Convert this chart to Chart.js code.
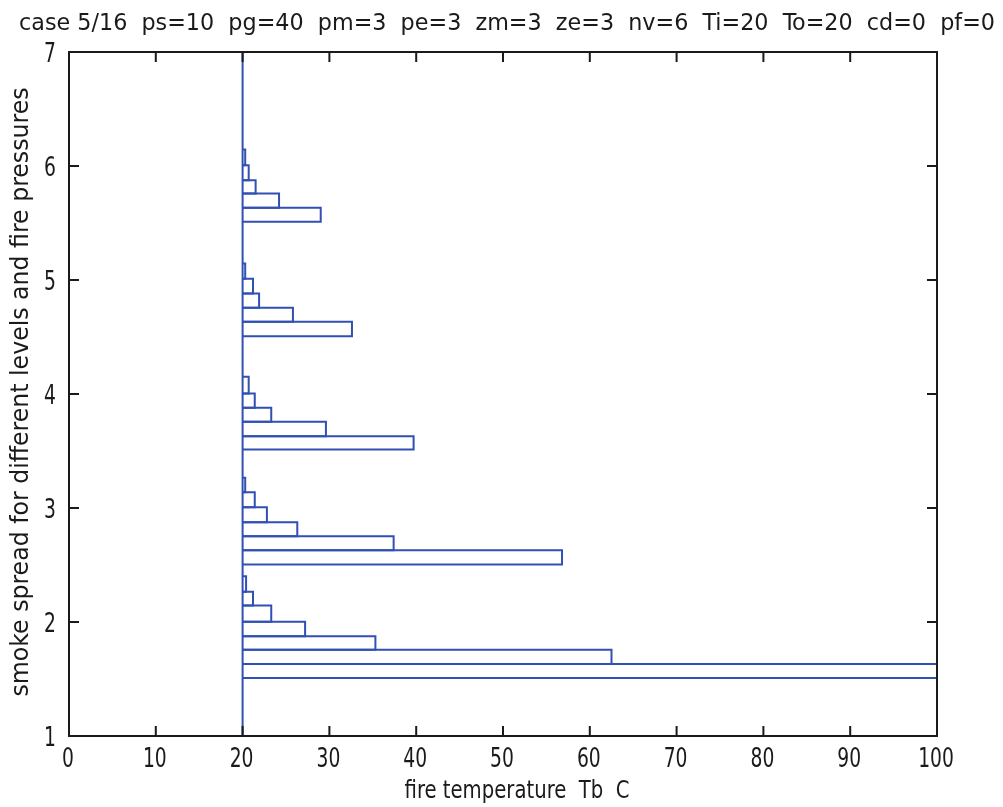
<!DOCTYPE html>
<html>
<head>
<meta charset="utf-8">
<script src="https://cdn.jsdelivr.net/npm/chart.js@4.4.0/dist/chart.umd.min.js"></script>
<style>
html, body { margin: 0; padding: 0; background: #ffffff; }
#chart_box { width: 1003px; height: 807px; }
</style>
</head>
<body>
<div id="chart_box"><canvas id="chart"></canvas></div>
<script>
const title_text = "case 5/16  ps=10  pg=40  pm=3  pe=3  zm=3  ze=3  nv=6  Ti=20  To=20  cd=0  pf=0";
const x_title = "fire temperature  Tb  C";
const y_title = "smoke spread for different levels and fire pressures";

const x_ticks = [0, 10, 20, 30, 40, 50, 60, 70, 80, 90, 100];
const y_ticks = [1, 2, 3, 4, 5, 6, 7];

const inside_temp = 20;

// bar edges (smoke spread) and bar ends (fire temperature) per level
const level_1_edges = [1.509, 1.632, 1.756, 1.875, 2.002, 2.145, 2.265, 2.402];
const level_1_temps = [100, 62.5, 35.3, 27.2, 23.3, 21.2, 20.4];

const level_2_edges = [2.504, 2.630, 2.753, 2.875, 3.007, 3.139, 3.265];
const level_2_temps = [56.8, 37.4, 26.3, 22.8, 21.4, 20.3];

const level_3_edges = [3.513, 3.630, 3.756, 3.879, 4.004, 4.151];
const level_3_temps = [39.7, 29.6, 23.3, 21.4, 20.7];

const level_4_edges = [4.507, 4.633, 4.756, 4.882, 5.011, 5.145];
const level_4_temps = [32.6, 25.8, 21.9, 21.2, 20.3];

const level_5_edges = [5.511, 5.633, 5.759, 5.875, 6.007, 6.144];
const level_5_temps = [29.0, 24.2, 21.5, 20.7, 20.3];

const levels = [
    [level_1_edges, level_1_temps],
    [level_2_edges, level_2_temps],
    [level_3_edges, level_3_temps],
    [level_4_edges, level_4_temps],
    [level_5_edges, level_5_temps],
];

var line_color = "#3150b4";
var axis_color = "#1a1a1a";
var font_family = "'DejaVu Sans Condensed', 'DejaVu Sans', sans-serif";

function Make_Line( points ) {
    return {
        data: points,
        showLine: true,
        borderColor: line_color,
        borderWidth: 2,
        pointRadius: 0,
        pointHoverRadius: 0,
        fill: false,
        tension: 0,
    };
}

function Build_Datasets() {
    var datasets = [];
    for ( var i=0; i<levels.length; i++ ) {
        var edges = levels[i][0];
        var temps = levels[i][1];
        for ( var j=0; j<temps.length; j++ ) {
            var pts = [];
            pts.push({x: inside_temp, y: edges[j]});
            pts.push({x: temps[j], y: edges[j]});
            pts.push({x: temps[j], y: edges[j+1]});
            pts.push({x: inside_temp, y: edges[j+1]});
            datasets.push(Make_Line(pts));
        }
    }
    datasets.push(Make_Line([
        {x: inside_temp, y: y_ticks[0]},
        {x: inside_temp, y: y_ticks[y_ticks.length-1]}
    ]));
    return datasets;
}

// text squeezed or stretched so it covers the same span as in the picture
function Draw_Text( ctx, text, x, y, size, width, align, angle ) {
    ctx.save();
    ctx.font = size + "px " + font_family;
    ctx.textAlign = align;
    var sx = 1;
    if ( width > 0 ) {
        sx = width / ctx.measureText(text).width;
    } else if ( width < 0 ) {
        sx = -width;
    }
    ctx.translate(x, y);
    ctx.rotate(angle);
    ctx.scale(sx, 1);
    ctx.fillText(text, 0, 0);
    ctx.restore();
}

const frame_plugin = {
    id: "frame",
    afterDraw(chart) {
        var ctx = chart.ctx;
        var area = chart.chartArea;
        var xs = chart.scales.x;
        var ys = chart.scales.y;
        var tick_len = 10;

        ctx.save();
        ctx.strokeStyle = axis_color;
        ctx.lineWidth = 2;
        ctx.strokeRect(area.left, area.top, area.right - area.left, area.bottom - area.top);

        ctx.beginPath();
        for ( var i=0; i<x_ticks.length; i++ ) {
            var px = xs.getPixelForValue(x_ticks[i]);
            ctx.moveTo(px, area.bottom);
            ctx.lineTo(px, area.bottom - tick_len);
            ctx.moveTo(px, area.top);
            ctx.lineTo(px, area.top + tick_len);
        }
        for ( var i=0; i<y_ticks.length; i++ ) {
            var py = ys.getPixelForValue(y_ticks[i]);
            ctx.moveTo(area.left, py);
            ctx.lineTo(area.left + tick_len, py);
            ctx.moveTo(area.right, py);
            ctx.lineTo(area.right - tick_len, py);
        }
        ctx.stroke();

        ctx.fillStyle = axis_color;
        ctx.textBaseline = "alphabetic";
        for ( var i=0; i<x_ticks.length; i++ ) {
            var px = xs.getPixelForValue(x_ticks[i]);
            Draw_Text(ctx, String(x_ticks[i]), px - 1, 767, 26, -0.8, "center", 0);
        }
        for ( var i=0; i<y_ticks.length; i++ ) {
            var py = ys.getPixelForValue(y_ticks[i]);
            Draw_Text(ctx, String(y_ticks[i]), 56, py + 9.5, 26, -0.8, "right", 0);
        }

        Draw_Text(ctx, title_text, 507, 30, 23, 976, "center", 0);
        Draw_Text(ctx, x_title, 517, 798, 24, 225, "center", 0);
        Draw_Text(ctx, y_title, 28, 392, 24, 609, "center", -Math.PI / 2);
        ctx.restore();
    }
};

window.onload = function() {
    var canvas = document.getElementById("chart").getContext("2d");
    new Chart(canvas, {
        type: "scatter",
        data: { datasets: Build_Datasets() },
        plugins: [frame_plugin],
        options: {
            responsive: true,
            maintainAspectRatio: false,
            animation: false,
            layout: { padding: { top: 52, right: 66, left: 0, bottom: 0 } },
            plugins: {
                legend: { display: false },
                tooltip: { enabled: false },
                title: { display: false },
            },
            scales: {
                x: {
                    type: "linear",
                    min: 0,
                    max: 100,
                    afterBuildTicks: function(scale) {
                        scale.ticks = x_ticks.map(function(v) { return {value: v}; });
                    },
                    afterFit: function(scale) { scale.height = 71; },
                    grid: { display: false, drawTicks: false },
                    border: { display: false },
                    ticks: { display: false },
                },
                y: {
                    type: "linear",
                    min: 1,
                    max: 7,
                    afterBuildTicks: function(scale) {
                        scale.ticks = y_ticks.map(function(v) { return {value: v}; });
                    },
                    afterFit: function(scale) { scale.width = 69; },
                    grid: { display: false, drawTicks: false },
                    border: { display: false },
                    ticks: { display: false },
                },
            },
        },
    });
};
</script>
</body>
</html>
